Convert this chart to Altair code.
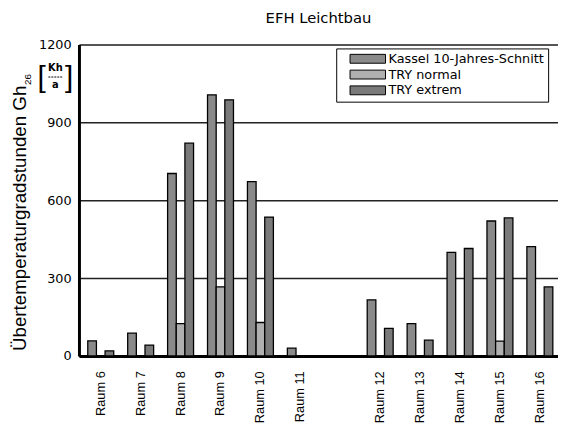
import altair as alt
import pandas as pd

rooms = ["Raum 6", "Raum 7", "Raum 8", "Raum 9", "Raum 10", "Raum 11", "gap",
         "Raum 12", "Raum 13", "Raum 14", "Raum 15", "Raum 16"]
series = ["Kassel 10-Jahres-Schnitt", "TRY normal", "TRY extrem"]
kassel = [58, 88, 703, 1006, 672, 30, 0, 216, 125, 399, 520, 421]
try_normal = [0, 0, 125, 266, 129, 0, 0, 0, 0, 0, 57, 0]
try_extrem = [20, 42, 820, 987, 535, 0, 0, 106, 61, 414, 532, 266]
y_ticks = [0, 300, 600, 900, 1200]
colors = ["#8a8a8a", "#b0b0b0", "#7a7a7a"]

rows = []
for s, vals in zip(series, [kassel, try_normal, try_extrem]):
    for r, v in zip(rooms, vals):
        rows.append({"room": r, "series": s, "value": v})
df = pd.DataFrame(rows)

bars = alt.Chart(df).transform_filter("datum.value > 0").mark_bar(
    stroke="black", strokeWidth=1.3
).encode(
    x=alt.X("room:N", sort=rooms,
            scale=alt.Scale(domain=rooms, paddingInner=0.35, paddingOuter=0.175, align=0.63),
            axis=alt.Axis(title=None, labelAngle=270,
                          labelExpr="datum.value == 'gap' ? '' : datum.value",
                          labelFont="Liberation Sans", labelFontSize=13, labelColor="black",
                          labelPadding=15, ticks=False, tickSize=0,
                          domainColor="black", domainWidth=3, grid=False)),
    xOffset=alt.XOffset("series:N", sort=series,
                        scale=alt.Scale(domain=series, paddingInner=0, paddingOuter=0)),
    y=alt.Y("value:Q", scale=alt.Scale(domain=[0, 1200], nice=False),
            axis=alt.Axis(title=None, values=y_ticks, format="d", grid=True,
                          gridColor="#222222", gridWidth=1.5, ticks=False, tickSize=0,
                          labelPadding=8, labelFont="DejaVu Sans", labelFontSize=13,
                          labelColor="black", domainColor="black", domainWidth=3)),
    fill=alt.Fill("series:N", sort=series,
                  scale=alt.Scale(domain=series, range=colors),
                  legend=alt.Legend(title=None, orient="none", legendX=261, legendY=4,
                                    strokeColor="black", fillColor="white", padding=4,
                                    labelFont="DejaVu Sans", labelFontSize=13, labelColor="black",
                                    symbolType="M0.78,-1L8.78,-1L8.78,1L0.78,1Z",
                                    symbolSize=81, symbolStrokeColor="black",
                                    symbolStrokeWidth=1, labelOffset=36, rowPadding=2)),
)

def txt(text, x, y, size, angle=0, align="center", font="DejaVu Sans", weight="normal"):
    return alt.Chart(pd.DataFrame({"t": [text]})).mark_text(
        angle=angle, align=align, baseline="middle", font=font, fontSize=size,
        fontWeight=weight, color="black"
    ).encode(text="t:N", x=alt.value(x), y=alt.value(y))

ytitle = txt("Übertemperaturgradstunden Gh", -60, 311, 19, angle=270, align="left",
             font="Liberation Sans")
sub = txt("26", -52, 41, 10, angle=270, align="left", font="Liberation Sans")
lb = txt("[", -38, 34, 30, font="Liberation Sans")
rb = txt("]", -10, 34, 30, font="Liberation Sans")
kh = txt("Kh", -24, 24, 10, weight="bold")
a = txt("a", -24, 41, 10, weight="bold")
frac = alt.Chart(pd.DataFrame({"d": [0]})).mark_rule(
    color="black", strokeWidth=1, strokeDash=[2, 1]
).encode(x=alt.value(-31), x2=alt.value(-17), y=alt.value(33))

chart = alt.layer(bars, ytitle, sub, lb, rb, kh, a, frac).properties(
    width=486, height=316,
    title=alt.TitleParams("EFH Leichtbau", font="DejaVu Sans", fontSize=15,
                          fontWeight="normal", color="black", anchor="middle", offset=13),
    autosize=alt.AutoSizeParams(type="none"),
    padding={"left": 72, "top": 34, "right": 0, "bottom": 67},
).configure_view(stroke="black", strokeWidth=2.5).configure(background="white")

chart.save("out.html", embed_options={"renderer": "svg", "actions": False})
